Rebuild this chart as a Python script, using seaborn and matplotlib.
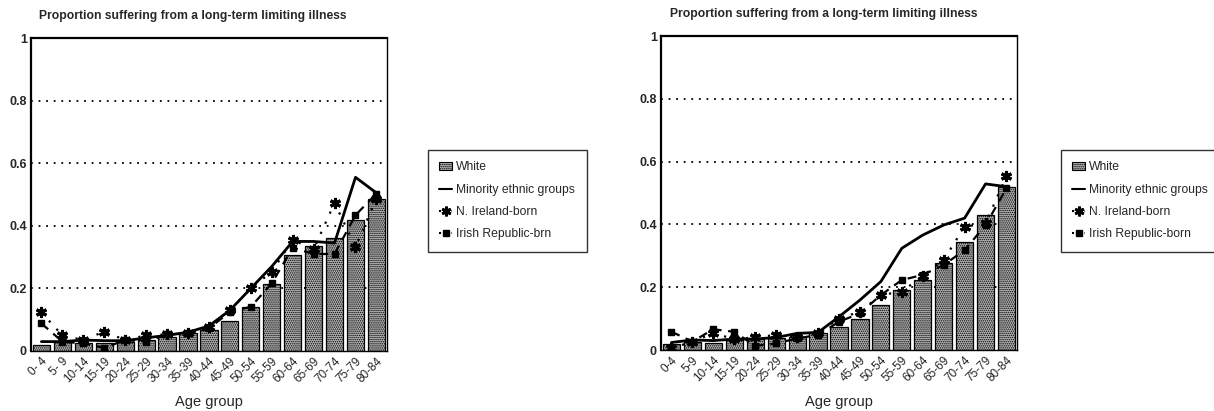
import matplotlib
matplotlib.use("Agg")
import matplotlib.pyplot as plt
import numpy as np
import pandas as pd
import seaborn as sns
from matplotlib.lines import Line2D
from matplotlib.patches import Patch

# Age groups (tick text differs slightly between the two panels)
ages_left = ["0- 4", "5- 9", "10-14", "15-19", "20-24", "25-29", "30-34", "35-39",
             "40-44", "45-49", "50-54", "55-59", "60-64", "65-69", "70-74", "75-79", "80-84"]
ages_right = ["0-4", "5-9", "10-14", "15-19", "20-24", "25-29", "30-34", "35-39",
              "40-44", "45-49", "50-54", "55-59", "60-64", "65-69", "70-74", "75-79", "80-84"]

# Left panel
white_l = [0.018, 0.028, 0.026, 0.025, 0.028, 0.036, 0.044, 0.056, 0.068, 0.095,
           0.139, 0.213, 0.306, 0.335, 0.361, 0.418, 0.487]
minority_l = [0.03, 0.03, 0.035, 0.033, 0.033, 0.042, 0.05, 0.06, 0.08, 0.13,
              0.2, 0.27, 0.35, 0.35, 0.345, 0.555, 0.505]
ni_born_l = [0.123, 0.05, 0.035, 0.062, 0.035, 0.05, 0.053, 0.058, 0.078, 0.131,
             0.2, 0.253, 0.355, 0.325, 0.473, 0.333, 0.487]
ir_born_l = [0.088, 0.03, 0.024, 0.01, 0.035, 0.03, 0.053, 0.056, 0.072, 0.125,
             0.141, 0.216, 0.33, 0.31, 0.31, 0.434, 0.503]

# Right panel
white_r = [0.018, 0.027, 0.021, 0.032, 0.034, 0.037, 0.04, 0.053, 0.074, 0.10,
           0.143, 0.191, 0.223, 0.276, 0.345, 0.43, 0.52]
minority_r = [0.024, 0.032, 0.03, 0.035, 0.035, 0.04, 0.053, 0.056, 0.106, 0.159,
              0.218, 0.324, 0.366, 0.398, 0.42, 0.529, 0.52]
ni_born_r = [0.005, 0.027, 0.053, 0.035, 0.04, 0.048, 0.04, 0.053, 0.10, 0.122,
             0.175, 0.186, 0.236, 0.287, 0.393, 0.403, 0.554]
ir_born_r = [0.058, 0.027, 0.066, 0.058, 0.013, 0.021, 0.037, 0.048, 0.09, 0.117,
             0.175, 0.223, 0.239, 0.271, 0.318, 0.398, 0.515]

title = "Proportion suffering from a long-term limiting illness"
legend_labels_l = ["White", "Minority ethnic groups", "N. Ireland-born", "Irish Republic-brn"]
legend_labels_r = ["White", "Minority ethnic groups", "N. Ireland-born", "Irish Republic-born"]

sns.set_theme(style="white")
plt.rcParams["font.family"] = ["Liberation Sans", "DejaVu Sans"]
plt.rcParams["hatch.color"] = "#3a3a3a"
plt.rcParams["hatch.linewidth"] = 0.7

fig = plt.figure(figsize=(12.14, 4.11), dpi=100)

BAR_FACE = "#b4b4b4"
BAR_HATCH = "........"
NI_MARKER = (6, 2, 0)


def draw_panel(ax, ages, white, minority, ni, ir):
    df = pd.DataFrame({"age": ages, "white": white})
    sns.barplot(data=df, x="age", y="white", ax=ax, color=BAR_FACE,
                edgecolor="black", linewidth=0.9, width=0.82, saturation=1)
    for p in ax.patches:
        p.set_hatch(BAR_HATCH)
    idx = np.arange(len(ages))
    ax.plot(idx, minority, color="black", lw=2.0, zorder=4)
    ax.plot(idx, ni, color="black", lw=1.6, ls=(0, (1, 4)), marker=NI_MARKER,
            ms=8, mew=2.2, zorder=5)
    ax.plot(idx, ir, color="black", lw=1.6, ls=(0, (4, 3)), marker="s",
            ms=4.5, zorder=5)
    ax.set_xlim(-0.5, len(ages) - 0.5)
    ax.set_ylim(0, 1)
    ax.set_yticks([0, 0.2, 0.4, 0.6, 0.8, 1.0])
    ax.set_yticklabels(["0", "0.2", "0.4", "0.6", "0.8", "1"], fontsize=9,
                       fontweight="bold")
    for y in [0.2, 0.4, 0.6, 0.8]:
        ax.axhline(y, color="black", lw=1.3, ls=(0, (1, 3.2)), zorder=0.5)
    ax.set_xticks(idx)
    ax.set_xticklabels(ages, rotation=45, ha="right", rotation_mode="anchor",
                       fontsize=8.5)
    ax.tick_params(axis="x", length=0, pad=3)
    ax.tick_params(axis="y", length=0, pad=3)
    ax.set_xlabel("Age group", fontsize=10.5)
    ax.xaxis.set_label_coords(0.5, -0.142)
    ax.set_ylabel("")
    for s in ax.spines.values():
        s.set_visible(True)
        s.set_color("black")
        s.set_linewidth(1.0)
    ax.spines["left"].set_linewidth(1.6)
    ax.spines["top"].set_linewidth(1.6)
    ax.text(0.024, 1.05, title, transform=ax.transAxes, fontsize=8.7,
            fontweight="bold", ha="left", va="bottom")


def draw_legend(fig, labels, rect):
    handles = [
        Patch(facecolor=BAR_FACE, edgecolor="black", hatch=BAR_HATCH, lw=0.8),
        Line2D([], [], color="black", lw=1.5),
        Line2D([], [], color="black", lw=1.5, ls=(0, (1, 2)), marker=NI_MARKER,
               ms=7, mew=2.0),
        Line2D([], [], color="black", lw=1.5, ls=(0, (1, 2)), marker="s", ms=4),
    ]
    leg = fig.legend(handles, labels, loc="upper left", bbox_to_anchor=rect,
                     frameon=True, fontsize=8.7, handlelength=1.0,
                     handletextpad=0.4, labelspacing=0.85, borderpad=0.95,
                     borderaxespad=0, fancybox=False, edgecolor="black")
    leg.get_frame().set_linewidth(1.0)
    return leg


ax1 = fig.add_axes([0.0255, 0.146, 0.2932, 0.7615])
draw_panel(ax1, ages_left, white_l, minority_l, ni_born_l, ir_born_l)
ax2 = fig.add_axes([0.5445, 0.1484, 0.2932, 0.764])
draw_panel(ax2, ages_right, white_r, minority_r, ni_born_r, ir_born_r)

draw_legend(fig, legend_labels_l, (428 / 1214, 1 - 150 / 411))
draw_legend(fig, legend_labels_r, (1061 / 1214, 1 - 150 / 411))

fig.savefig("out.png", dpi=100, facecolor="white")
